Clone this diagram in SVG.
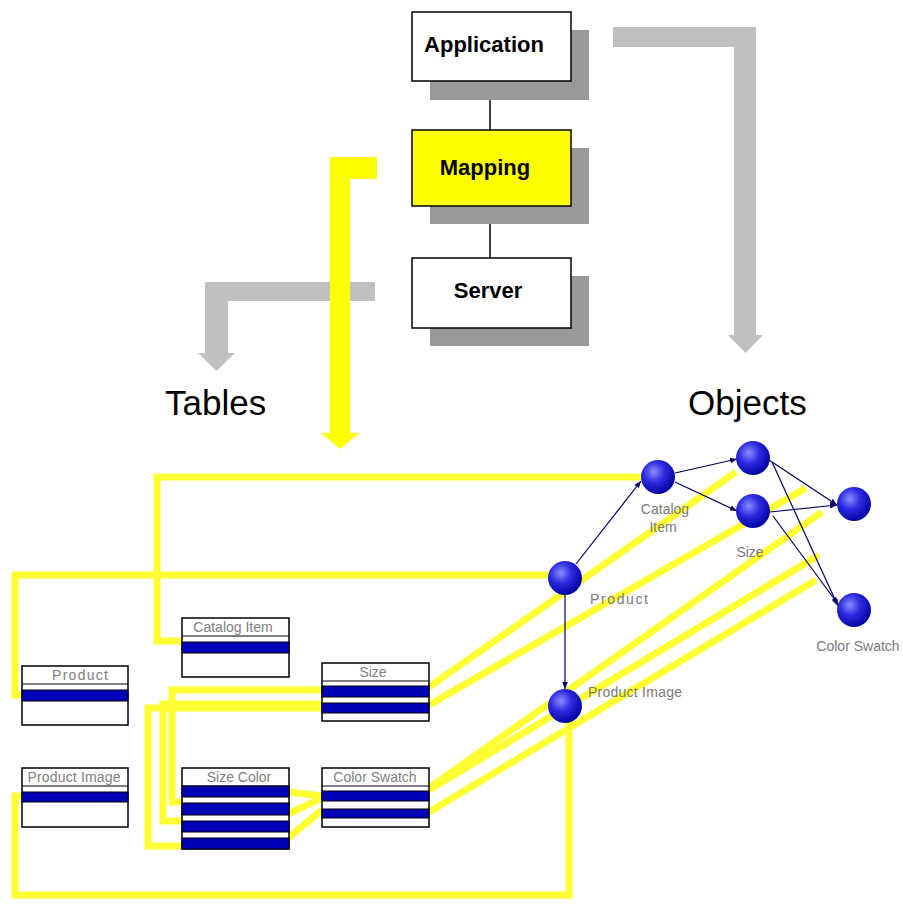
<svg xmlns="http://www.w3.org/2000/svg" width="903" height="904" viewBox="0 0 903 904">
<defs>
<style>
.box{fill:#fff;stroke:#000;stroke-width:1.5}
.shadow{fill:#999}
.btxt{font-family:"Liberation Sans",Arial,sans-serif;font-weight:bold;font-size:22px;fill:#000;text-anchor:middle}
.big{font-family:"Liberation Sans",Arial,sans-serif;font-size:35px;fill:#000}
.ylink{fill:none;stroke:#ffff33;stroke-width:7;stroke-linejoin:miter}
.tbl{fill:#fff;stroke:#000;stroke-width:1.5}
.row{fill:#0000b4;stroke:#000;stroke-width:1}
.hdr{stroke:#000;stroke-width:1}
.ttxt{font-family:"Liberation Sans",Arial,sans-serif;font-size:14px;fill:#808080;text-anchor:middle}
.otxt{font-family:"Liberation Sans",Arial,sans-serif;font-size:14px;fill:#7a7a7a}
.rel{stroke:#000060;stroke-width:1.2;fill:none;marker-end:url(#ah)}
.ball{fill:url(#sph)}
</style>
<radialGradient id="sph" cx="0.38" cy="0.35" r="0.7">
<stop offset="0" stop-color="#8c8cff"/>
<stop offset="0.45" stop-color="#2a2ae0"/>
<stop offset="1" stop-color="#00009a"/>
</radialGradient>
<marker id="ah" viewBox="0 0 10 10" refX="10" refY="5" markerWidth="7" markerHeight="7" orient="auto" markerUnits="userSpaceOnUse">
<path d="M0,1 L10,5 L0,9 Z" fill="#000060"/>
</marker>
</defs>
<rect width="903" height="904" fill="#fff"/>

<!-- big flow arrows -->
<g id="flow-arrows">
<path d="M613,27 L756,27 L756,335 L763,335 L745.5,353 L728,335 L734,335 L734,47 L613,47 Z" fill="#c0c0c0"/>
<path d="M375,282 L375,301 L228,301 L228,353 L235,353 L216.5,371 L198,353 L205,353 L205,282 Z" fill="#c0c0c0"/>
<path d="M330,157 L377,157 L377,179 L350,179 L350,433 L359,433 L340,449 L321,433 L330,433 Z" fill="#ffff00"/>
</g>

<!-- top stack -->
<g id="stack-links">
<line x1="490" y1="81" x2="490" y2="130" stroke="#000" stroke-width="1.5"/>
<line x1="490" y1="206" x2="490" y2="258" stroke="#000" stroke-width="1.5"/>
</g>
<g id="application">
<rect class="shadow" x="430" y="30" width="159" height="70"/>
<rect class="box" x="412" y="12" width="159" height="69"/>
<text class="btxt" x="484" y="52">Application</text>
</g>
<g id="mapping">
<rect class="shadow" x="430" y="148" width="159" height="76"/>
<rect class="box" x="412" y="130" width="159" height="76" style="fill:#ffff00"/>
<text class="btxt" x="485" y="175">Mapping</text>
</g>
<g id="server">
<rect class="shadow" x="430" y="276" width="159" height="70"/>
<rect class="box" x="412" y="258" width="159" height="70"/>
<text class="btxt" x="488" y="298">Server</text>
</g>

<text class="big" x="165" y="415">Tables</text>
<text class="big" x="688" y="415">Objects</text>

<!-- yellow mapping connectors -->
<g id="mapping-links">
<polyline class="ylink" points="182,641 157,641 157,477 642,477"/>
<polyline class="ylink" points="22,695 15,695 15,575 550,575"/>
<polyline class="ylink" points="22,796 15,796 15,895 569,895 569,720"/>
<polyline class="ylink" points="182,802 172,802 172,690 322,690"/>
<polyline class="ylink" points="182,821 163,821 163,704 322,704"/>
<polyline class="ylink" points="182,846 148,846 148,708 322,708"/>
<polyline class="ylink" points="288,792 322,796"/>
<polyline class="ylink" points="288,814 322,798"/>
<polyline class="ylink" points="288,838 322,810"/>
<polyline class="ylink" points="429,687 736,472"/>
<polyline class="ylink" points="429,705 806,488"/>
<polyline class="ylink" points="429,788 822,512"/>
<polyline class="ylink" points="429,790 819,555"/>
<polyline class="ylink" points="429,812 816,580"/>
</g>

<!-- tables -->
<g id="t-catalog-item">
<rect class="tbl" x="182" y="618" width="107" height="59"/>
<line class="hdr" x1="182" y1="636" x2="289" y2="636"/>
<rect class="row" x="182" y="642" width="107" height="11"/>
<text class="ttxt" x="233" y="632">Catalog Item</text>
</g>
<g id="t-product">
<rect class="tbl" x="22" y="666" width="106" height="59"/>
<line class="hdr" x1="22" y1="684" x2="128" y2="684"/>
<rect class="row" x="22" y="690" width="106" height="11"/>
<text class="ttxt" x="80" y="680" textLength="56">Product</text>
</g>
<g id="t-product-image">
<rect class="tbl" x="22" y="768" width="106" height="59"/>
<line class="hdr" x1="22" y1="786" x2="128" y2="786"/>
<rect class="row" x="22" y="792" width="106" height="10"/>
<text class="ttxt" x="74" y="782" textLength="93">Product Image</text>
</g>
<g id="t-size">
<rect class="tbl" x="322" y="663" width="107" height="58"/>
<line class="hdr" x1="322" y1="681" x2="429" y2="681"/>
<rect class="row" x="322" y="686" width="107" height="11"/>
<rect class="row" x="322" y="703" width="107" height="10"/>
<text class="ttxt" x="373" y="677">Size</text>
</g>
<g id="t-color-swatch">
<rect class="tbl" x="322" y="768" width="107" height="59"/>
<line class="hdr" x1="322" y1="786" x2="429" y2="786"/>
<rect class="row" x="322" y="791" width="107" height="10"/>
<rect class="row" x="322" y="809" width="107" height="9"/>
<text class="ttxt" x="375" y="782">Color Swatch</text>
</g>
<g id="t-size-color">
<rect class="tbl" x="182" y="768" width="107" height="81"/>
<line class="hdr" x1="182" y1="786" x2="289" y2="786"/>
<rect class="row" x="182" y="786" width="107" height="11"/>
<rect class="row" x="182" y="803" width="107" height="12"/>
<rect class="row" x="182" y="821" width="107" height="11"/>
<rect class="row" x="182" y="838" width="107" height="11"/>
<text class="ttxt" x="239" y="782">Size Color</text>
</g>

<!-- object relations -->
<g id="object-links">
<line class="rel" x1="576" y1="564" x2="641" y2="481"/>
<line class="rel" x1="565" y1="595" x2="565" y2="689"/>
<line class="rel" x1="675" y1="473" x2="737" y2="459"/>
<line class="rel" x1="675" y1="482" x2="737" y2="511"/>
<line class="rel" x1="769" y1="460" x2="837" y2="505"/>
<line class="rel" x1="770" y1="512" x2="837" y2="505"/>
<line class="rel" x1="772" y1="462" x2="838" y2="606"/>
<line class="rel" x1="773" y1="516" x2="838" y2="604"/>
</g>

<!-- objects -->
<g id="o-catalog-item">
<circle class="ball" cx="658" cy="477" r="17"/>
<text class="otxt" x="665" y="514" text-anchor="middle">Catalog</text>
<text class="otxt" x="663" y="532" text-anchor="middle">Item</text>
</g>
<g id="o-size-a">
<circle class="ball" cx="753" cy="458" r="17"/>
</g>
<g id="o-size">
<circle class="ball" cx="753" cy="511" r="17"/>
<text class="otxt" x="750" y="557" text-anchor="middle">Size</text>
</g>
<g id="o-right">
<circle class="ball" cx="854" cy="504" r="17"/>
</g>
<g id="o-color-swatch">
<circle class="ball" cx="854" cy="610" r="17"/>
<text class="otxt" x="858" y="651" text-anchor="middle">Color Swatch</text>
</g>
<g id="o-product">
<circle class="ball" cx="565" cy="578" r="17"/>
<text class="otxt" x="590" y="604" textLength="58">Product</text>
</g>
<g id="o-product-image">
<circle class="ball" cx="565" cy="706" r="17"/>
<text class="otxt" x="588" y="697" textLength="94">Product Image</text>
</g>
</svg>
